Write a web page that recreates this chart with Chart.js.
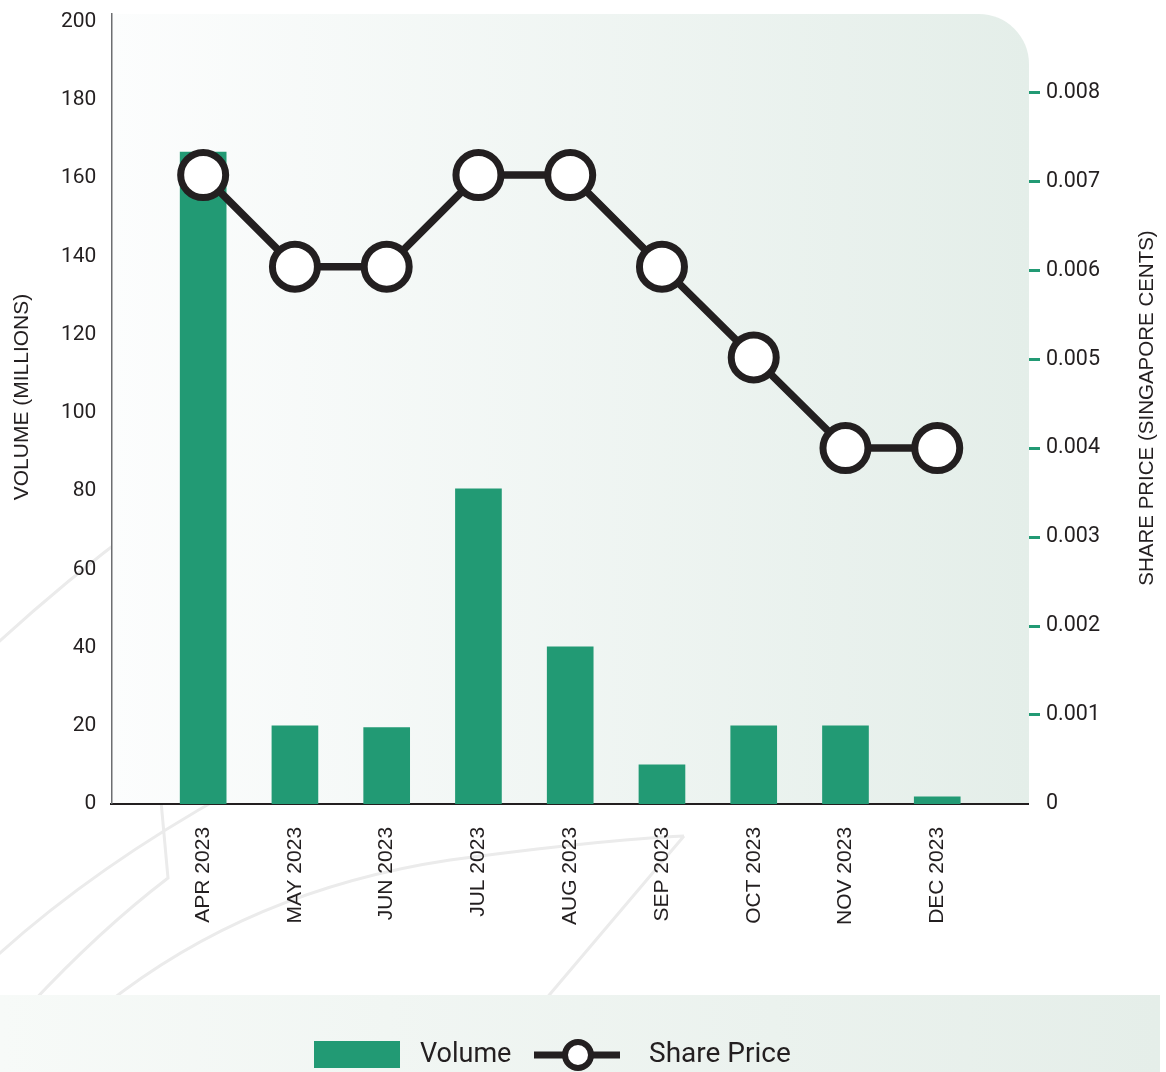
<!DOCTYPE html>
<html>
<head>
<meta charset="utf-8">
<script src="https://cdn.jsdelivr.net/npm/chart.js@4.4.1/dist/chart.umd.min.js"></script>
<style>
html,body{margin:0;padding:0;background:#ffffff;}
#wrap{width:1166px;height:1072px;position:relative;}
</style>
</head>
<body>
<div id="wrap"><canvas id="c" width="1166" height="1072"></canvas></div>
<script>
// ---- data ----
const categories = ['APR 2023','MAY 2023','JUN 2023','JUL 2023','AUG 2023','SEP 2023','OCT 2023','NOV 2023','DEC 2023'];
const volume = [166.7, 20, 19.5, 80.6, 40.2, 10, 20, 20, 1.8];
const sharePrice = [0.00707, 0.00604, 0.00604, 0.00707, 0.00707, 0.00604, 0.00502, 0.004, 0.004];
const volumeTicks = [0, 20, 40, 60, 80, 100, 120, 140, 160, 180, 200];
const priceTicks = [0, 0.001, 0.002, 0.003, 0.004, 0.005, 0.006, 0.007, 0.008];
const seriesNames = ['Volume', 'Share Price'];
const axisTitles = ['VOLUME (MILLIONS)', 'SHARE PRICE (SINGAPORE CENTS)'];

const GREEN = '#229a74';
const INK = '#231f20';

const bgPlugin = {
  id: 'bgPlugin',
  beforeDraw(chart) {
    const ctx = chart.ctx;
    const a = chart.chartArea;
    ctx.save();
    // decorative faint curves
    ctx.strokeStyle = '#ebebeb';
    ctx.lineWidth = 3;
    ctx.beginPath();
    ctx.moveTo(-10, 650); ctx.quadraticCurveTo(60, 585, 140, 525);
    ctx.moveTo(-10, 962); ctx.quadraticCurveTo(90, 870, 230, 792);
    ctx.moveTo(30, 1005); ctx.quadraticCurveTo(100, 930, 168, 878); ctx.lineTo(160, 790);
    ctx.moveTo(105, 1005); ctx.quadraticCurveTo(250, 890, 450, 860); ctx.quadraticCurveTo(600, 840, 684, 836);
    ctx.moveTo(545, 1000); ctx.lineTo(684, 836);
    ctx.stroke();
    // plot panel with rounded top-right corner
    const r = 50;
    const g = ctx.createLinearGradient(a.left, 0, a.right, 0);
    g.addColorStop(0, '#fcfdfd');
    g.addColorStop(1, '#e4eee9');
    ctx.fillStyle = g;
    ctx.beginPath();
    ctx.moveTo(a.left, a.top);
    ctx.lineTo(a.right - r, a.top);
    ctx.arcTo(a.right, a.top, a.right, a.top + r, r);
    ctx.lineTo(a.right, a.bottom);
    ctx.lineTo(a.left, a.bottom);
    ctx.closePath();
    ctx.fill();
    // legend strip
    const g2 = ctx.createLinearGradient(0, 0, 1160, 0);
    g2.addColorStop(0, '#f7faf8');
    g2.addColorStop(1, '#e5eee9');
    ctx.fillStyle = g2;
    ctx.fillRect(0, 995, 1160, 77);
    ctx.restore();
  },
  afterDraw(chart) {
    const ctx = chart.ctx;
    ctx.save();
    ctx.fillStyle = INK;
    ctx.font = '21px "Liberation Sans", Arial, sans-serif';
    ctx.textAlign = 'center';
    ctx.textBaseline = 'middle';
    // left axis title
    ctx.save();
    ctx.translate(22, 397);
    ctx.rotate(-Math.PI / 2);
    ctx.fillText(axisTitles[0], 0, 0);
    ctx.restore();
    // right axis title (reads bottom to top)
    ctx.save();
    ctx.font = '20.5px "Liberation Sans", Arial, sans-serif';
    ctx.translate(1147, 408);
    ctx.rotate(-Math.PI / 2);
    ctx.fillText(axisTitles[1], 0, 0);
    ctx.restore();

    // legend
    const ly = 1055;
    ctx.fillStyle = GREEN;
    ctx.fillRect(314, 1041, 86, 27);
    ctx.fillStyle = INK;
    ctx.textAlign = 'left';
    ctx.font = '27px Roboto, sans-serif';
    ctx.fillText(seriesNames[0], 420, ly);
    ctx.strokeStyle = INK;
    ctx.lineWidth = 7;
    ctx.beginPath();
    ctx.moveTo(534, ly); ctx.lineTo(620, ly);
    ctx.stroke();
    ctx.beginPath();
    ctx.arc(578, ly, 13, 0, Math.PI * 2);
    ctx.fillStyle = '#ffffff';
    ctx.fill();
    ctx.lineWidth = 6;
    ctx.stroke();
    ctx.fillStyle = INK;
    ctx.font = '28px Roboto, sans-serif';
    ctx.fillText(seriesNames[1], 649, ly);
    ctx.restore();
  }
};

const noVerticalLabelPadding = (s) => { s.paddingTop = 0; s.paddingBottom = 0; };

const ctx = document.getElementById('c').getContext('2d');
new Chart(ctx, {
  type: 'bar',
  data: {
    datasets: [
      {
        type: 'line',
        label: seriesNames[1],
        data: categories.map((c, i) => ({ x: i + 1, y: sharePrice[i] })),
        yAxisID: 'y2',
        borderColor: INK,
        borderWidth: 7.5,
        pointRadius: 22.5,
        pointHoverRadius: 22.5,
        pointBorderWidth: 7,
        pointBackgroundColor: '#ffffff',
        pointBorderColor: INK,
        tension: 0,
        clip: false,
        order: 0
      },
      {
        type: 'bar',
        label: seriesNames[0],
        data: categories.map((c, i) => ({ x: i + 1, y: volume[i] })),
        yAxisID: 'y',
        backgroundColor: GREEN,
        borderWidth: 0,
        barThickness: 46,
        order: 1
      }
    ]
  },
  options: {
    responsive: false,
    animation: false,
    devicePixelRatio: 1,
    layout: { autoPadding: false, padding: { left: 46, right: 60, top: 14, bottom: 124 } },
    plugins: { legend: { display: false }, tooltip: { enabled: false } },
    scales: {
      x: {
        type: 'linear',
        offset: false,
        min: 0,
        max: categories.length + 1,
        afterBuildTicks: (s) => { s.ticks = categories.map((c, i) => ({ value: i + 1 })); },
        grid: { display: false, drawTicks: false, offset: false },
        border: { display: true, color: INK, width: 2 },
        ticks: {
          autoSkip: false,
          minRotation: 90,
          maxRotation: 90,
          padding: 23,
          color: INK,
          font: { family: '"Liberation Sans", Arial, sans-serif', size: 21 },
          callback: (v) => categories[v - 1] || ''
        }
      },
      y: {
        position: 'left',
        min: 0,
        max: 202,
        afterBuildTicks: (s) => { s.ticks = volumeTicks.map(v => ({ value: v })); },
        afterFit: noVerticalLabelPadding,
        grid: { display: false, drawTicks: false },
        border: { display: true, color: '#6d6e71', width: 1.5 },
        ticks: {
          padding: 15,
          color: INK,
          font: { family: 'Roboto, sans-serif', size: 21 }
        }
      },
      y2: {
        position: 'right',
        min: 0,
        max: 0.00888,
        afterBuildTicks: (s) => { s.ticks = priceTicks.map(v => ({ value: v })); },
        afterFit: noVerticalLabelPadding,
        grid: {
          display: true,
          drawOnChartArea: false,
          drawTicks: true,
          tickLength: 11,
          tickWidth: 3,
          tickColor: (c) => (c.tick && c.tick.value === 0) ? 'rgba(0,0,0,0)' : GREEN
        },
        border: { display: false },
        ticks: {
          padding: 6,
          color: INK,
          font: { family: 'Roboto, sans-serif', size: 21.5 },
          callback: (v) => String(+v.toFixed(3))
        }
      }
    }
  },
  plugins: [bgPlugin]
});
</script>
</body>
</html>
